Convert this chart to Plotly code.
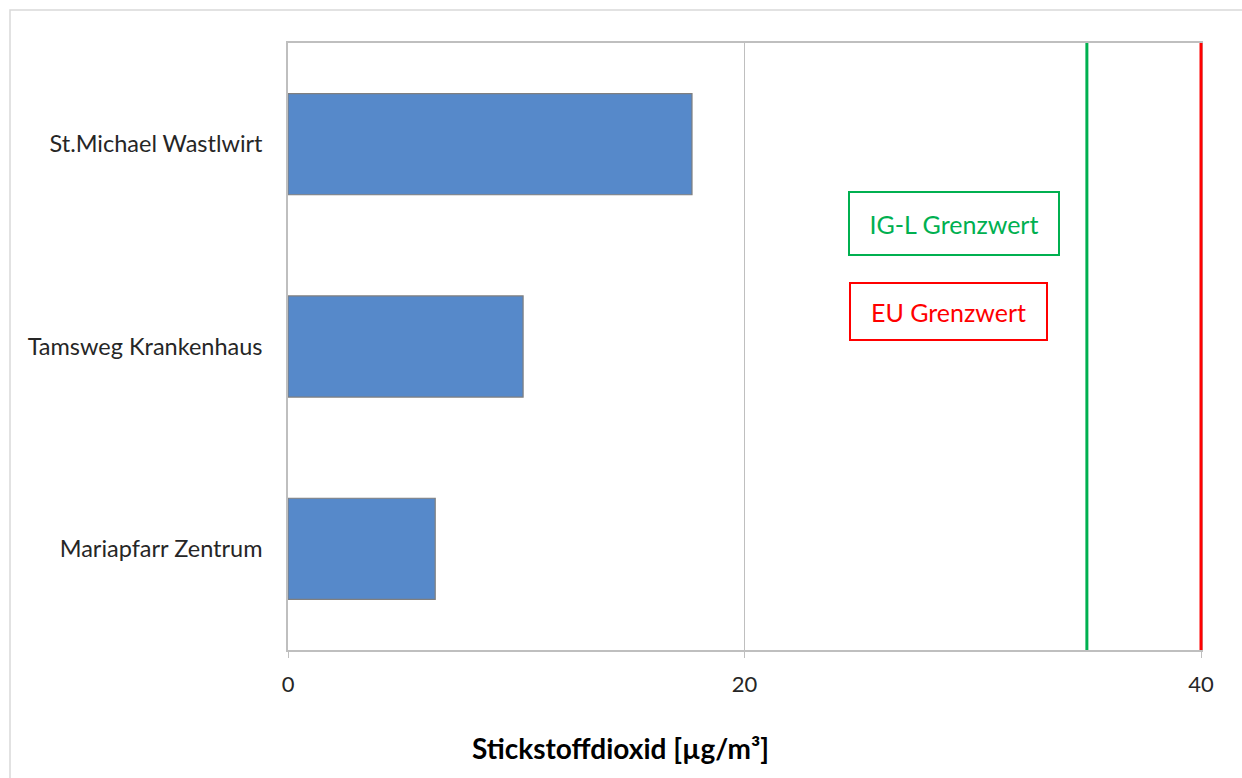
import plotly.graph_objects as go

stations = ["St.Michael Wastlwirt", "Tamsweg Krankenhaus", "Mariapfarr Zentrum"]
no2_values = [17.7, 10.3, 6.45]
limit_names = ["IG-L Grenzwert", "EU Grenzwert"]
limit_values = [35, 40]
limit_colors = ["#00B050", "#FF0000"]
x_ticks = [0, 20, 40]
x_range = [0, 40]
x_title = "Stickstoffdioxid [µg/m³]"

W, H = 1242, 778
L, R, T, B = 288, 1201, 43, 650
pw, ph = R - L, B - T

def px_x(p):
    return (p - L) / pw

def px_y(p):
    return (B - p) / ph

FONT = "Lato, 'Noto Sans', sans-serif"

fig = go.Figure()
fig.add_trace(go.Bar(
    x=no2_values, y=stations, orientation="h", width=0.5,
    marker=dict(color="#5689CA", line=dict(color="#7F7F7F", width=1.2)),
    showlegend=False,
))

shapes = []
# limit lines: positioned on the x scale (paper fraction of the axis range) so they are not clipped
for v, c in zip(limit_values, limit_colors):
    frac = (v - x_range[0]) / (x_range[1] - x_range[0])
    shapes.append(dict(type="line", xref="paper", yref="paper", x0=frac, x1=frac, y0=0, y1=1,
                       line=dict(color=c, width=3), layer="above"))
# outer chart frame
shapes.append(dict(type="rect", xref="paper", yref="paper",
                   x0=px_x(10), x1=px_x(1260), y0=px_y(10), y1=px_y(800),
                   line=dict(color="#D9D9D9", width=1.5), layer="below"))

annotations = [
    dict(text=limit_names[0], xref="paper", yref="paper", x=px_x(954), y=px_y(223.5),
         showarrow=False, font=dict(family=FONT, size=25, color=limit_colors[0]),
         bordercolor=limit_colors[0], borderwidth=2, width=206, height=59,
         xanchor="center", yanchor="middle", bgcolor="white"),
    dict(text=limit_names[1], xref="paper", yref="paper", x=px_x(948.5), y=px_y(311.5),
         showarrow=False, font=dict(family=FONT, size=25, color=limit_colors[1]),
         bordercolor=limit_colors[1], borderwidth=2, width=193, height=53,
         xanchor="center", yanchor="middle", bgcolor="white"),
    dict(text="<b>" + x_title + "</b>", xref="paper", yref="paper",
         x=px_x(620), y=px_y(748), showarrow=False,
         font=dict(family=FONT, size=28, color="#000000"),
         xanchor="center", yanchor="middle"),
]

fig.update_layout(
    width=W, height=H,
    margin=dict(l=L, r=W - R, t=T, b=H - B, pad=0),
    paper_bgcolor="white", plot_bgcolor="white",
    font=dict(family=FONT, size=20, color="#262626"),
    shapes=shapes, annotations=annotations,
    bargap=0.5,
)
fig.update_xaxes(
    range=x_range, tickvals=x_ticks, ticktext=[str(t) for t in x_ticks],
    showgrid=True, gridcolor="#BFBFBF", gridwidth=1,
    showline=True, linecolor="#BFBFBF", linewidth=1.5, mirror=True,
    ticks="outside", ticklen=6, tickcolor="#BFBFBF",
    zeroline=False, ticklabelstandoff=8,
    tickfont=dict(family=FONT, size=22, color="#262626"),
)
fig.update_yaxes(
    categoryorder="array", categoryarray=stations[::-1],
    showgrid=False, showline=True, linecolor="#BFBFBF", linewidth=1.5, mirror=True,
    ticks="", ticklabelstandoff=19,
    tickfont=dict(family=FONT, size=23.5, color="#262626"),
)

fig.write_html("out.html")
